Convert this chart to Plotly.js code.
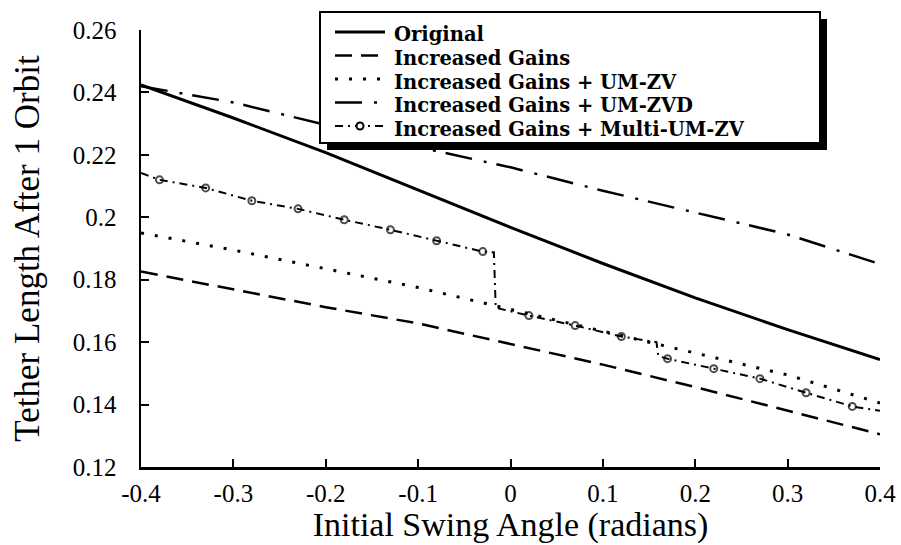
<!DOCTYPE html>
<html>
<head>
<meta charset="utf-8">
<script src="https://cdn.plot.ly/plotly-3.0.1.min.js"></script>
<style>html,body{margin:0;padding:0;background:#fff;}#chart{width:901px;height:545px;}</style>
</head>
<body>
<div id="chart"></div>
<script>
// ---- data ----
const seriesNames = ["Original", "Increased Gains", "Increased Gains + UM-ZV", "Increased Gains + UM-ZVD", "Increased Gains + Multi-UM-ZV"];
const angleX = [-0.4, -0.3, -0.2, -0.1, 0, 0.1, 0.2, 0.3, 0.4];
const originalY = [0.2424, 0.2318, 0.2207, 0.2088, 0.1968, 0.1852, 0.1742, 0.1640, 0.1544];
const gainsY = [0.1826, 0.177, 0.1712, 0.166, 0.1595, 0.1528, 0.1456, 0.138, 0.1305];
const umzvY = [0.195, 0.1895, 0.1835, 0.1775, 0.1705, 0.1635, 0.1565, 0.1495, 0.1405];
const umzvdY = [0.242, 0.2368, 0.2296, 0.2225, 0.216, 0.2085, 0.2015, 0.1945, 0.185];
const multiX = [-0.4, -0.38, -0.33, -0.28, -0.23, -0.18, -0.13, -0.08, -0.03, -0.018, -0.016, 0.02, 0.07, 0.12, 0.158, 0.16, 0.17, 0.22, 0.27, 0.32, 0.37, 0.4];
const multiY = [0.2142, 0.212, 0.2094, 0.2053, 0.2027, 0.1992, 0.196, 0.1925, 0.189, 0.1888, 0.171, 0.1685, 0.1653, 0.1618, 0.160, 0.1555, 0.1547, 0.1515, 0.1483, 0.1438, 0.1394, 0.138];
const multiMarkerX = [-0.38, -0.33, -0.28, -0.23, -0.18, -0.13, -0.08, -0.03, 0.02, 0.07, 0.12, 0.17, 0.22, 0.27, 0.32, 0.37];
const xTickVals = [-0.4, -0.3, -0.2, -0.1, 0, 0.1, 0.2, 0.3, 0.4];
const xTickText = ["-0.4", "-0.3", "-0.2", "-0.1", "0", "0.1", "0.2", "0.3", "0.4"];
const yTickVals = [0.12, 0.14, 0.16, 0.18, 0.2, 0.22, 0.24, 0.26];
const yTickText = ["0.12", "0.14", "0.16", "0.18", "0.2", "0.22", "0.24", "0.26"];

// ---- styles ----
const dashes = ["solid", "17px,9px", "3px,11px", "27px,12px,3px,10px", "8px,5px,2px,5px"];
const widths = [3, 2.5, 3, 2.5, 2];
const markerSizes = multiX.map(v => multiMarkerX.includes(v) ? 7 : 0);

const seriesY = [originalY, gainsY, umzvY, umzvdY];
const traces = seriesY.map((ys, i) => ({
  x: angleX, y: ys, name: seriesNames[i], mode: "lines", showlegend: false,
  line: {color: "#000", width: widths[i], dash: dashes[i]}
}));
traces.push({
  x: multiX, y: multiY, name: seriesNames[4], mode: "lines+markers", showlegend: false,
  line: {color: "#000", width: widths[4], dash: dashes[4]},
  marker: {symbol: "circle-open", size: markerSizes, color: "#000", line: {color: "#000", width: 2}}
});

// ---- manual legend (box with drop shadow) ----
const M = {l: 141, r: 21, t: 30, b: 78};
const W = 901, H = 545;
const pw = W - M.l - M.r, ph = H - M.t - M.b;
const px = p => (p - M.l) / pw;
const py = p => 1 - (p - M.t) / ph;
const box = {x0: 320, x1: 820, y0: 12, y1: 143};
const rowY = [35, 58.5, 82, 105.5, 129];
const shapes = [
  {type: "rect", xref: "paper", yref: "paper", layer: "above", x0: px(box.x0 + 7), x1: px(box.x1 + 7), y0: py(box.y1 + 7), y1: py(box.y0 + 7), fillcolor: "#000", line: {width: 0}},
  {type: "rect", xref: "paper", yref: "paper", layer: "above", x0: px(box.x0), x1: px(box.x1), y0: py(box.y1), y1: py(box.y0), fillcolor: "#fff", line: {color: "#000", width: 2}}
];
const annotations = [];
seriesNames.forEach((nm, i) => {
  shapes.push({type: "line", xref: "paper", yref: "paper", layer: "above",
    x0: px(335), x1: px(385), y0: py(rowY[i] - 3), y1: py(rowY[i] - 3),
    line: {color: "#000", width: widths[i], dash: dashes[i]}});
  annotations.push({xref: "paper", yref: "paper", x: px(393), y: py(rowY[i]), xanchor: "left", yanchor: "middle",
    text: "<b>" + nm + "</b>", showarrow: false, borderpad: 0,
    font: {family: "DejaVu Serif, serif", size: 19.5, color: "#000"}});
});
shapes.push({type: "circle", xref: "paper", yref: "paper", layer: "above",
  x0: px(360 - 3.5), x1: px(360 + 3.5), y0: py(rowY[4] - 3 + 3.5), y1: py(rowY[4] - 3 - 3.5),
  fillcolor: "#fff", line: {color: "#000", width: 2}});

const serif = "Liberation Serif, Times New Roman, serif";
const layout = {
  width: W, height: H,
  margin: M,
  paper_bgcolor: "#fff", plot_bgcolor: "#fff",
  showlegend: false,
  shapes: shapes,
  annotations: annotations,
  xaxis: {
    range: [-0.4, 0.4], tickvals: xTickVals, ticktext: xTickText,
    ticks: "inside", ticklen: 8, tickwidth: 2, tickcolor: "#000",
    showline: true, linecolor: "#000", linewidth: 2.5, mirror: false,
    showgrid: false, zeroline: false, ticklabelstandoff: 2,
    tickfont: {family: serif, size: 25, color: "#000"},
    title: {text: "Initial Swing Angle (radians)", font: {family: serif, size: 34, color: "#000"}, standoff: 0}
  },
  yaxis: {
    range: [0.12, 0.26], tickvals: yTickVals, ticktext: yTickText,
    ticks: "inside", ticklen: 8, tickwidth: 2, tickcolor: "#000",
    showline: true, linecolor: "#000", linewidth: 2.5, mirror: false,
    showgrid: false, zeroline: false, ticklabelstandoff: 17,
    tickfont: {family: serif, size: 25, color: "#000"},
    title: {text: "Tether Length After 1 Orbit", font: {family: serif, size: 35, color: "#000"}, standoff: 23}
  }
};

Plotly.newPlot("chart", traces, layout, {displayModeBar: false, staticPlot: true});
</script>
</body>
</html>
